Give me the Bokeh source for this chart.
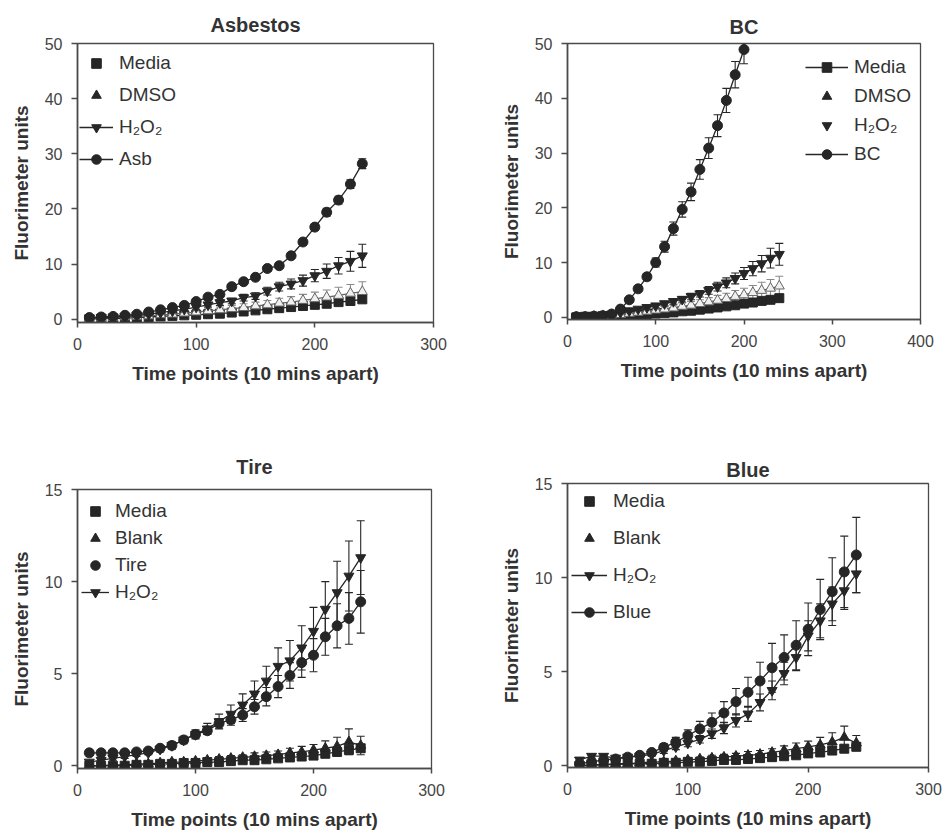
from bokeh.plotting import figure
from bokeh.layouts import column, row
from bokeh.models import (ColumnDataSource, Whisker, TeeHead, Legend, LegendItem,
                          FixedTicker, Range1d)
from bokeh.core.properties import value
from bokeh.embed import file_html
from bokeh.resources import INLINE

# ---------------- data ----------------
time = [10, 20, 30, 40, 50, 60, 70, 80, 90, 100, 110, 120,
        130, 140, 150, 160, 170, 180, 190, 200, 210, 220, 230, 240]
bc_time = [10, 20, 30, 40, 50, 60, 70, 80, 90, 100, 110, 120,
           130, 140, 150, 160, 170, 180, 190, 200]

# Asbestos panel
asb_media = [0.0, 0.1, 0.1, 0.2, 0.3, 0.4, 0.5, 0.6, 0.7, 0.8, 0.9, 1.0,
             1.2, 1.4, 1.6, 1.8, 2.0, 2.2, 2.4, 2.6, 2.8, 3.1, 3.3, 3.6]
asb_media_err = [0.1, 0.1, 0.1, 0.1, 0.1, 0.1, 0.2, 0.2, 0.2, 0.2, 0.2, 0.3,
                 0.3, 0.3, 0.3, 0.4, 0.4, 0.4, 0.4, 0.5, 0.5, 0.5, 0.6, 0.6]
asb_dmso = [0.1, 0.2, 0.3, 0.4, 0.5, 0.6, 0.8, 0.9, 1.1, 1.3, 1.5, 1.7,
            1.9, 2.1, 2.4, 2.6, 2.9, 3.1, 3.4, 3.7, 4.0, 4.3, 4.7, 5.0]
asb_dmso_err = [0.1, 0.1, 0.1, 0.2, 0.2, 0.2, 0.3, 0.3, 0.4, 0.4, 0.5, 0.5,
                0.6, 0.7, 0.7, 0.8, 0.9, 1.0, 1.1, 1.2, 1.3, 1.5, 1.6, 1.8]
asb_h2o2 = [0.2, 0.3, 0.4, 0.5, 0.7, 0.9, 1.2, 1.5, 1.8, 2.2, 2.6, 3.0,
            3.3, 3.9, 4.2, 5.1, 5.9, 6.4, 7.0, 7.9, 8.7, 9.7, 10.5, 11.5]
asb_h2o2_err = [0.1, 0.1, 0.1, 0.1, 0.2, 0.2, 0.2, 0.3, 0.3, 0.4, 0.4, 0.5,
                0.5, 0.6, 0.6, 0.7, 0.8, 0.9, 1.0, 1.1, 1.3, 1.5, 1.8, 2.1]
asb_asb = [0.3, 0.4, 0.5, 0.7, 0.9, 1.3, 1.7, 2.1, 2.5, 3.2, 4.0, 4.5,
           5.9, 6.8, 7.6, 9.2, 9.7, 11.5, 14.0, 16.7, 19.4, 21.6, 24.5, 28.2]
asb_asb_err = [0.1, 0.1, 0.1, 0.1, 0.1, 0.2, 0.2, 0.2, 0.2, 0.3, 0.3, 0.3,
               0.4, 0.4, 0.4, 0.5, 0.5, 0.5, 0.6, 0.6, 0.7, 0.7, 0.8, 0.9]

# BC panel
bc_media = [0.0, 0.1, 0.1, 0.2, 0.2, 0.3, 0.4, 0.5, 0.6, 0.7, 0.8, 0.9,
            1.1, 1.2, 1.4, 1.6, 1.8, 2.0, 2.2, 2.5, 2.7, 3.0, 3.2, 3.5]
bc_media_err = [0.1, 0.1, 0.1, 0.1, 0.1, 0.1, 0.2, 0.2, 0.2, 0.2, 0.2, 0.3,
                0.3, 0.3, 0.3, 0.4, 0.4, 0.4, 0.4, 0.5, 0.5, 0.5, 0.6, 0.6]
bc_dmso = [0.1, 0.1, 0.2, 0.3, 0.4, 0.5, 0.7, 0.9, 1.1, 1.3, 1.5, 1.7,
           2.0, 2.2, 2.5, 2.8, 3.1, 3.4, 3.8, 4.1, 4.5, 4.9, 5.3, 5.7]
bc_dmso_err = [0.1, 0.1, 0.1, 0.2, 0.2, 0.2, 0.3, 0.3, 0.4, 0.4, 0.5, 0.5,
               0.6, 0.7, 0.7, 0.8, 0.9, 1.0, 1.1, 1.2, 1.3, 1.5, 1.6, 1.8]
bc_h2o2 = [0.1, 0.2, 0.3, 0.4, 0.6, 0.9, 1.2, 1.5, 1.8, 2.1, 2.5, 2.9,
           3.3, 3.8, 4.3, 4.9, 5.6, 6.3, 7.1, 8.0, 8.9, 9.8, 10.8, 11.5]
bc_h2o2_err = [0.1, 0.1, 0.1, 0.1, 0.2, 0.2, 0.2, 0.3, 0.3, 0.4, 0.4, 0.5,
               0.5, 0.6, 0.6, 0.7, 0.8, 0.9, 1.0, 1.1, 1.3, 1.5, 1.8, 2.0]
bc_bc = [0.1, 0.1, 0.2, 0.3, 0.6, 1.5, 3.2, 5.2, 7.4, 10.0, 12.9, 16.2,
         19.7, 22.9, 27.0, 30.9, 35.0, 39.6, 44.3, 48.9]
bc_bc_err = [0.1, 0.1, 0.1, 0.1, 0.2, 0.3, 0.4, 0.5, 0.6, 0.8, 1.0, 1.2,
             1.4, 1.6, 1.8, 1.9, 2.0, 2.2, 2.4, 2.6]

# Tire panel
tire_media = [0.0, 0.0, 0.0, 0.0, 0.05, 0.05, 0.1, 0.1, 0.15, 0.15, 0.2, 0.2,
              0.25, 0.3, 0.3, 0.35, 0.4, 0.45, 0.5, 0.55, 0.65, 0.75, 0.85, 0.95]
tire_media_err = [0.05, 0.05, 0.05, 0.05, 0.05, 0.05, 0.05, 0.05, 0.05, 0.05, 0.1, 0.1,
                  0.1, 0.1, 0.1, 0.1, 0.1, 0.15, 0.15, 0.15, 0.15, 0.2, 0.2, 0.2]
tire_blank = [0.0, 0.0, 0.05, 0.05, 0.1, 0.1, 0.15, 0.2, 0.2, 0.25, 0.3, 0.35,
              0.4, 0.45, 0.5, 0.55, 0.6, 0.7, 0.75, 0.85, 0.95, 1.05, 1.3, 1.1]
tire_blank_err = [0.05, 0.05, 0.05, 0.05, 0.05, 0.05, 0.1, 0.1, 0.1, 0.1, 0.1, 0.15,
                  0.15, 0.15, 0.2, 0.2, 0.2, 0.25, 0.3, 0.3, 0.4, 0.5, 0.7, 0.5]
tire_tire = [0.7, 0.7, 0.7, 0.7, 0.75, 0.8, 0.95, 1.1, 1.4, 1.7, 1.9, 2.3,
             2.5, 2.75, 3.2, 3.75, 4.3, 4.9, 5.6, 6.0, 7.0, 7.6, 8.0, 8.9]
tire_tire_err = [0.05, 0.05, 0.05, 0.05, 0.05, 0.1, 0.1, 0.1, 0.15, 0.2, 0.2, 0.25,
                 0.3, 0.35, 0.4, 0.5, 0.6, 0.7, 0.8, 0.9, 1.0, 1.2, 1.4, 1.7]
tire_h2o2 = [0.2, 0.3, 0.4, 0.5, 0.6, 0.7, 0.9, 1.1, 1.4, 1.7, 2.0, 2.4,
             2.8, 3.3, 3.9, 4.6, 5.4, 5.7, 6.4, 7.3, 8.5, 9.4, 10.3, 11.3]
tire_h2o2_err = [0.05, 0.05, 0.1, 0.1, 0.1, 0.1, 0.15, 0.2, 0.2, 0.25, 0.3, 0.4,
                 0.5, 0.6, 0.7, 0.8, 1.0, 1.1, 1.2, 1.3, 1.5, 1.7, 1.9, 2.0]

# Blue panel
blue_media = [0.0, 0.0, 0.05, 0.05, 0.1, 0.1, 0.1, 0.15, 0.15, 0.2, 0.2, 0.25,
              0.3, 0.3, 0.35, 0.4, 0.45, 0.5, 0.55, 0.65, 0.7, 0.8, 0.9, 1.0]
blue_media_err = [0.05, 0.05, 0.05, 0.05, 0.05, 0.05, 0.05, 0.05, 0.05, 0.05, 0.1, 0.1,
                  0.1, 0.1, 0.1, 0.1, 0.1, 0.15, 0.15, 0.15, 0.15, 0.2, 0.2, 0.2]
blue_blank = [0.0, 0.05, 0.05, 0.1, 0.1, 0.15, 0.2, 0.2, 0.25, 0.3, 0.35, 0.4,
              0.45, 0.5, 0.55, 0.6, 0.7, 0.8, 0.9, 1.0, 1.1, 1.25, 1.5, 1.2]
blue_blank_err = [0.05, 0.05, 0.05, 0.05, 0.05, 0.05, 0.1, 0.1, 0.1, 0.1, 0.1, 0.15,
                  0.15, 0.15, 0.2, 0.2, 0.2, 0.25, 0.3, 0.3, 0.4, 0.5, 0.6, 0.4]
blue_h2o2 = [0.3, 0.5, 0.5, 0.4, 0.45, 0.5, 0.6, 0.8, 1.0, 1.2, 1.4, 1.7,
             2.0, 2.4, 2.75, 3.36, 4.0, 4.9, 5.75, 6.9, 7.7, 8.6, 9.3, 10.2]
blue_h2o2_err = [0.1, 0.1, 0.1, 0.1, 0.1, 0.1, 0.1, 0.15, 0.15, 0.2, 0.2, 0.25,
                 0.3, 0.35, 0.4, 0.45, 0.5, 0.6, 0.7, 0.8, 0.9, 0.9, 1.0, 1.0]
blue_blue = [0.1, 0.2, 0.3, 0.35, 0.45, 0.55, 0.7, 0.97, 1.25, 1.6, 1.95, 2.3,
             2.8, 3.4, 3.9, 4.5, 5.2, 5.75, 6.4, 7.25, 8.3, 9.25, 10.3, 11.2]
blue_blue_err = [0.05, 0.05, 0.05, 0.1, 0.1, 0.1, 0.15, 0.2, 0.25, 0.3, 0.4, 0.5,
                 0.6, 0.7, 0.8, 1.0, 1.3, 1.2, 1.3, 1.4, 1.6, 1.8, 1.9, 2.0]

x_ticks_300 = [0, 100, 200, 300]
x_ticks_400 = [0, 100, 200, 300, 400]
y_ticks_50 = [0, 10, 20, 30, 40, 50]
y_ticks_15 = [0, 5, 10, 15]

# ---------------- style ----------------
FONT = "Liberation Sans"
INK = "#262626"
AXIS = "#4a4a4a"
TEXT = "#333333"
X_LABEL = "Time points (10 mins apart)"
Y_LABEL = "Fluorimeter units"
ROW_H = 24


def make_fig(title, xr, yr, xticks, yticks, w, h, bl, br, bt, bb, title_standoff):
    p = figure(width=w, height=h, x_range=Range1d(*xr), y_range=Range1d(*yr),
               output_backend="svg", toolbar_location=None,
               min_border_left=bl, min_border_right=br,
               min_border_top=bt, min_border_bottom=bb,
               title=title, x_axis_label=X_LABEL, y_axis_label=Y_LABEL)
    p.background_fill_color = "white"
    p.border_fill_color = "white"
    p.outline_line_color = AXIS
    p.outline_line_width = 1.3
    p.xgrid.visible = False
    p.ygrid.visible = False
    p.title.align = "center"
    p.title.text_font = FONT
    p.title.text_font_size = "20px"
    p.title.text_font_style = "bold"
    p.title.text_color = TEXT
    p.title.standoff = title_standoff
    for ax in (p.xaxis[0], p.yaxis[0]):
        ax.axis_line_color = AXIS
        ax.axis_line_width = 1.6
        ax.major_tick_line_color = AXIS
        ax.major_tick_line_width = 1.5
        ax.major_tick_in = 0
        ax.major_tick_out = 6
        ax.minor_tick_line_color = None
        ax.major_label_text_font = FONT
        ax.major_label_text_font_size = "16px"
        ax.major_label_text_color = "#444444"
        ax.axis_label_text_font = FONT
        ax.axis_label_text_font_size = "19px"
        ax.axis_label_text_font_style = "bold"
        ax.axis_label_text_color = TEXT
    p.xaxis.ticker = FixedTicker(ticks=xticks)
    p.yaxis.ticker = FixedTicker(ticks=yticks)
    p.xaxis.major_tick_out = 5
    p.xaxis.major_label_standoff = 10
    p.xaxis.axis_label_standoff = 10
    p.yaxis.major_label_standoff = 9
    p.yaxis.axis_label_standoff = 10
    return p


def series(p, x, y, err, marker, size, fill=INK, line=INK, bar=INK, connect=True):
    src = ColumnDataSource(dict(x=x, y=y,
                                lo=[a - b for a, b in zip(y, err)],
                                hi=[a + b for a, b in zip(y, err)]))
    wk = Whisker(source=src, base="x", lower="lo", upper="hi",
                 line_color=bar, line_width=1.1,
                 upper_head=TeeHead(size=8, line_color=bar, line_width=1.1),
                 lower_head=TeeHead(size=8, line_color=bar, line_width=1.1))
    p.add_layout(wk)
    lr = None
    if connect:
        lr = p.line("x", "y", source=src, line_color=line, line_width=1.3)
    sr = p.scatter("x", "y", source=src, marker=marker, size=size,
                   fill_color=fill, line_color=line, line_width=1.0)
    return src, lr, sr


def key_marker(p, src, marker):
    # hidden dark copy of a series, used only for its legend swatch
    return p.scatter("x", "y", source=src, marker=marker, size=10,
                     fill_color=INK, line_color=INK, visible=False)


def add_legend(p, items, frame_h, top_gap, spacing, glyph_width, left_gap):
    n = len(items)
    height = n * ROW_H + (n - 1) * spacing
    lg = Legend(items=items, location=(left_gap, frame_h - top_gap - height),
                margin=0, padding=0, spacing=spacing,
                glyph_width=glyph_width, glyph_height=ROW_H,
                label_height=ROW_H, label_standoff=6,
                label_text_font=FONT, label_text_font_size="19px",
                label_text_color=TEXT, border_line_color=None,
                background_fill_alpha=0)
    p.add_layout(lg)


def item(label, rends):
    return LegendItem(label=value(label), renderers=[r for r in rends if r is not None])


W, H = 473, 417

# ---------------- Asbestos ----------------
p1 = make_fig("Asbestos", (0, 300), (-0.6, 50), x_ticks_300, y_ticks_50,
              W, H, 77, 40, 43, 95, 15)
_, m_l, m_s = series(p1, time, asb_media, asb_media_err, "square", 9)
d_src, d_l, d_s = series(p1, time, asb_dmso, asb_dmso_err, "triangle", 10,
                         fill="#f0f0f0", line="#666666", bar="#8a8a8a")
_, h_l, h_s = series(p1, time, asb_h2o2, asb_h2o2_err, "inverted_triangle", 10)
_, a_l, a_s = series(p1, time, asb_asb, asb_asb_err, "circle", 10)
add_legend(p1, [item("Media", [m_s]), item("DMSO", [key_marker(p1, d_src, "triangle")]),
                item("H₂O₂", [h_l, h_s]), item("Asb", [a_l, a_s])],
           279, 8, 8, 34, 2)

# ---------------- BC ----------------
p2 = make_fig("BC", (0, 400), (-0.4, 50), x_ticks_400, y_ticks_50,
              W, H, 94, 26, 43, 98, 12)
_, m_l, m_s = series(p2, time, bc_media, bc_media_err, "square", 9)
d_src, d_l, d_s = series(p2, time, bc_dmso, bc_dmso_err, "triangle", 10,
                         fill="#f0f0f0", line="#666666", bar="#8a8a8a")
_, h_l, h_s = series(p2, time, bc_h2o2, bc_h2o2_err, "inverted_triangle", 10)
_, b_l, b_s = series(p2, bc_time, bc_bc, bc_bc_err, "circle", 10)
add_legend(p2, [item("Media", [m_l, m_s]), item("DMSO", [key_marker(p2, d_src, "triangle")]),
                item("H₂O₂", [h_s]), item("BC", [b_l, b_s])],
           276, 12, 5, 43, 238)

# ---------------- Tire ----------------
p3 = make_fig("Tire", (0, 300), (-0.15, 15), x_ticks_300, y_ticks_15,
              W, H, 77, 42, 72, 66, 24)
_, m_l, m_s = series(p3, time, tire_media, tire_media_err, "square", 9)
_, k_l, k_s = series(p3, time, tire_blank, tire_blank_err, "triangle", 10)
_, t_l, t_s = series(p3, time, tire_tire, tire_tire_err, "circle", 10)
_, h_l, h_s = series(p3, time, tire_h2o2, tire_h2o2_err, "inverted_triangle", 10)
add_legend(p3, [item("Media", [m_s]), item("Blank", [k_s]),
                item("Tire", [t_s]), item("H₂O₂", [h_l, h_s])],
           279, 10, 3, 28, 4)

# ---------------- Blue ----------------
p4 = make_fig("Blue", (0, 300), (-0.1, 15), x_ticks_300, y_ticks_15,
              W, H, 94, 18, 66, 67, 5)
_, m_l, m_s = series(p4, time, blue_media, blue_media_err, "square", 9)
_, k_l, k_s = series(p4, time, blue_blank, blue_blank_err, "triangle", 10)
_, h_l, h_s = series(p4, time, blue_h2o2, blue_h2o2_err, "inverted_triangle", 10)
_, u_l, u_s = series(p4, time, blue_blue, blue_blue_err, "circle", 10)
add_legend(p4, [item("Media", [m_s]), item("Blank", [k_s]),
                item("H₂O₂", [h_l, h_s]), item("Blue", [u_l, u_s])],
           284, 6, 13, 36, 4)

# each figure in its own box so that the rows do not align their frames
layout = column(row(column(p1), column(p2), spacing=0),
                row(column(p3), column(p4), spacing=0), spacing=0)

open("out.html", "w").write(file_html(layout, INLINE))
